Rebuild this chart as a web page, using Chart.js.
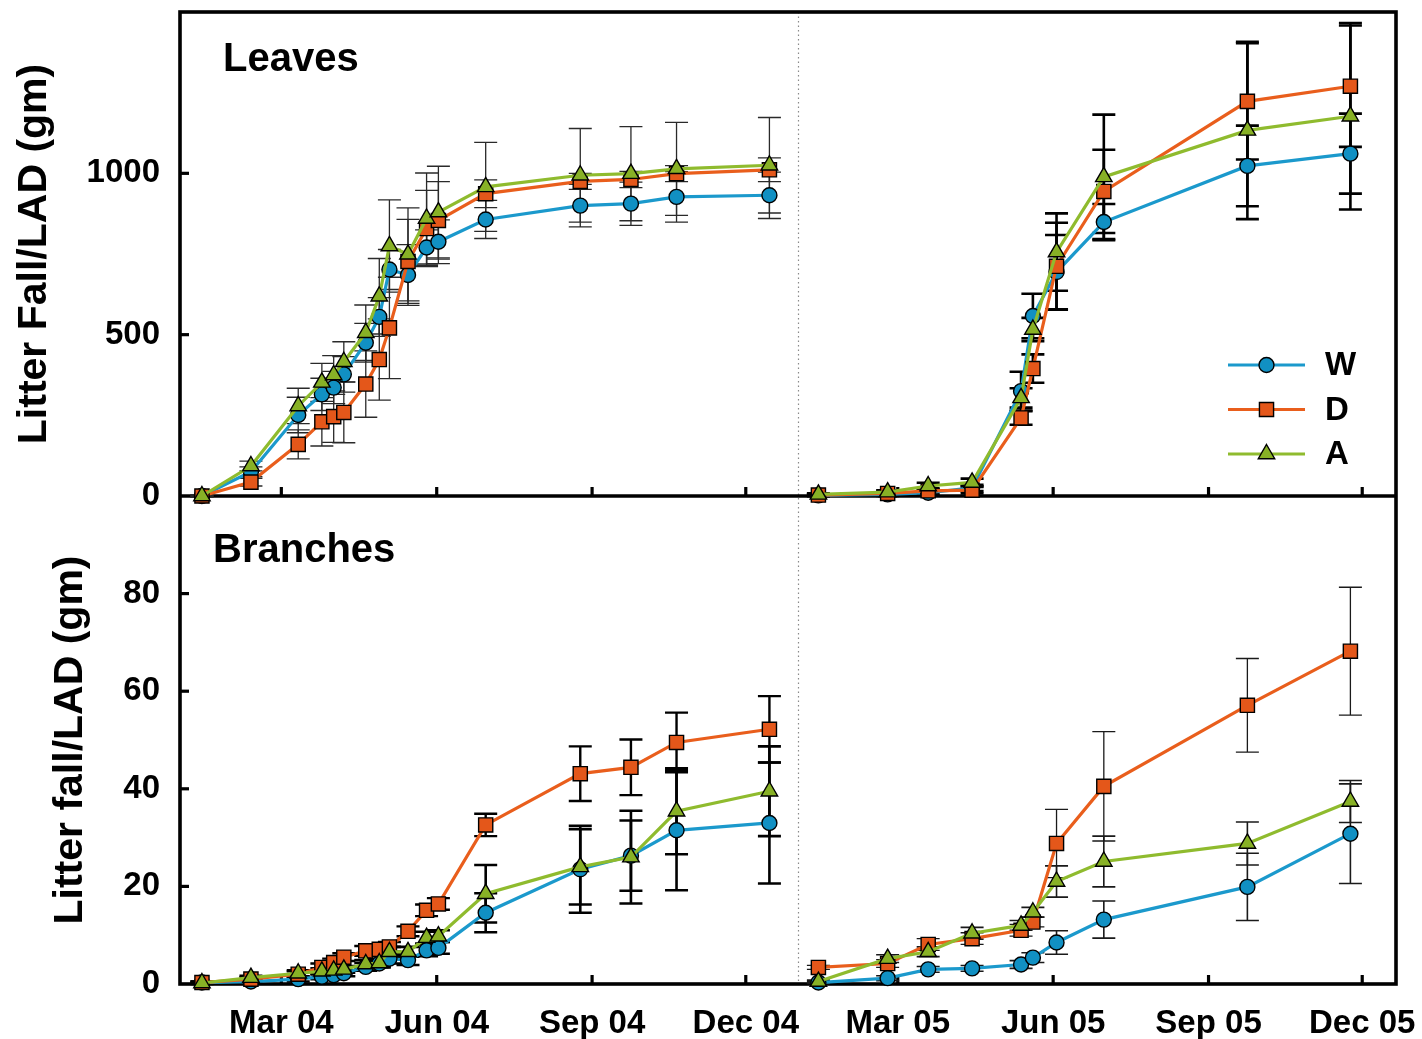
<!DOCTYPE html>
<html><head><meta charset="utf-8">
<script src="https://cdn.jsdelivr.net/npm/chart.js@4.4.0/dist/chart.umd.min.js"></script>
<style>html,body{margin:0;padding:0;background:#fff;}#wrap{width:1422px;height:1039px;position:relative;}</style>
</head><body><div id="wrap"><canvas id="c" width="1422" height="1039"></canvas></div>
<script>
// ---- data ----
const seriesNames = ['W', 'D', 'A'];
const dates04 = ['2004-01-14','2004-02-12','2004-03-11','2004-03-25','2004-04-01','2004-04-07','2004-04-20','2004-04-28','2004-05-04','2004-05-15','2004-05-26','2004-06-02','2004-06-30','2004-08-25','2004-09-24','2004-10-21','2004-12-15'];
const dates05 = ['2005-01-13','2005-02-23','2005-03-19','2005-04-14','2005-05-13','2005-05-20','2005-06-03','2005-07-01','2005-09-24','2005-11-24'];
const tickDates = ['2004-03-01','2004-06-01','2004-09-01','2004-12-01','2005-03-01','2005-06-01','2005-09-01','2005-12-01'];
const tickLabels = ['Mar 04','Jun 04','Sep 04','Dec 04','Mar 05','Jun 05','Sep 05','Dec 05'];
const yearBreak = '2005-01-01';
const axisStart = '2004-01-01';
const axisEnd = '2005-12-21';

const leavesW04 = [0, 75, 251, 315, 336, 377, 475, 555, 702, 685, 770, 788, 857, 900, 906, 927, 932];
const leavesD04 = [0, 43, 160, 230, 246, 259, 347, 423, 521, 727, 829, 854, 937, 975, 981, 999, 1011];
const leavesA04 = [0, 93, 279, 352, 375, 416, 506, 619, 775, 749, 860, 880, 958, 994, 999, 1014, 1025];
const leavesW04Err = [3, 15, 55, 50, 50, 55, 60, 60, 62, 94, 55, 68, 59, 66, 67, 78, 72];
const leavesD04Err = [3, 12, 45, 75, 80, 94, 103, 126, 157, 130, 118, 120, 43, 25, 25, 25, 37];
const leavesA04Err = [3, 15, 55, 59, 60, 62, 86, 117, 143, 144, 141, 142, 138, 145, 146, 144, 148];

const leavesW05 = [2, 5, 10, 25, 325, 558, 694, 849, 1023, 1061];
const leavesD05 = [3, 8, 16, 18, 242, 395, 712, 944, 1223, 1270];
const leavesA05 = [5, 12, 31, 42, 304, 516, 756, 989, 1133, 1177];
const leavesW05Err = [3, 5, 8, 10, 60, 69, 115, 56, 125, 124];
const leavesD05Err = [3, 5, 8, 10, 21, 44, 135, 129, 180, 188];
const leavesA05Err = [3, 6, 10, 12, 30, 36, 120, 193, 275, 289];

const branchW04 = [0.3, 0.5, 1.0, 1.5, 1.8, 2.2, 3.5, 4.2, 5.2, 4.9, 6.9, 7.4, 14.6, 23.5, 26.3, 31.5, 33.0];
const branchD04 = [0.3, 1.0, 2.0, 3.4, 4.4, 5.5, 6.8, 7.1, 7.6, 10.8, 15.1, 16.4, 32.6, 43.1, 44.4, 49.5, 52.2];
const branchA04 = [0.2, 1.3, 2.2, 2.6, 2.8, 3.0, 4.1, 4.3, 6.6, 6.6, 9.5, 9.8, 18.5, 24.0, 26.0, 35.4, 39.5];
const branchW04Err = [0.2, 0.3, 0.5, 0.5, 0.6, 0.6, 0.8, 0.8, 1.0, 1.0, 1.2, 1.2, 4.0, 8.9, 7.2, 12.3, 12.4];
const branchD04Err = [0.2, 0.4, 0.6, 0.8, 0.8, 0.8, 1.0, 1.0, 1.0, 1.0, 1.2, 1.2, 2.3, 5.6, 5.7, 6.1, 6.8];
const branchA04Err = [0.2, 0.4, 0.6, 0.6, 0.6, 0.7, 0.8, 0.8, 1.0, 1.0, 1.2, 1.2, 5.9, 7.7, 9.5, 8.8, 9.2];

const branchW05 = [0.3, 1.2, 3.0, 3.2, 4.0, 5.4, 8.5, 13.2, 19.9, 30.8];
const branchD05 = [3.4, 4.2, 8.1, 9.3, 11.0, 12.7, 28.8, 40.5, 57.1, 68.2];
const branchA05 = [0.5, 5.2, 6.6, 10.4, 12.0, 14.7, 21.0, 25.1, 28.8, 37.4];
const branchW05Err = [0.2, 0.5, 0.6, 0.6, 0.8, 1.0, 2.4, 3.8, 6.9, 10.2];
const branchD05Err = [0.4, 0.8, 1.2, 1.2, 1.2, 1.0, 7.0, 11.2, 9.6, 13.1];
const branchA05Err = [0.3, 0.8, 1.0, 1.2, 1.0, 1.0, 3.2, 5.2, 4.4, 4.3];

const yTopTicks = [0, 500, 1000];
const yBotTicks = [0, 20, 40, 60, 80];

// ---- styles ----
const FONT = '"Liberation Sans", Arial, Helvetica, sans-serif';
const lineColors = ['#1b99cc', '#e95e1c', '#8fbb2e'];
const markerColors = ['#1190c3', '#e4571a', '#88b126'];
const markerStyles = ['circle', 'rect', 'triangle'];
const markerRadius = [7.5, 10, 9.5];
const drawOrder = [3, 2, 1];

const dayNum = d => (Date.parse(d) - Date.parse(axisStart)) / 864e5;

const groups = [
  {axis: 'yTop', dates: dates04, vals: [leavesW04, leavesD04, leavesA04], errs: [leavesW04Err, leavesD04Err, leavesA04Err], errW: [1.3, 1.3, 1.3], errC: '#2a2a2a'},
  {axis: 'yTop', dates: dates05, vals: [leavesW05, leavesD05, leavesA05], errs: [leavesW05Err, leavesD05Err, leavesA05Err], errW: [2.6, 2.6, 2.6], errC: '#000'},
  {axis: 'yBot', dates: dates04, vals: [branchW04, branchD04, branchA04], errs: [branchW04Err, branchD04Err, branchA04Err], errW: [2.6, 2.4, 2.6], errC: '#000'},
  {axis: 'yBot', dates: dates05, vals: [branchW05, branchD05, branchA05], errs: [branchW05Err, branchD05Err, branchA05Err], errW: [1.6, 1.3, 1.6], errC: '#1a1a1a'}
];

const datasets = [];
groups.forEach(g => {
  for (let s = 0; s < 3; s++) {
    datasets.push({
      label: seriesNames[s],
      yAxisID: g.axis,
      data: g.dates.map((d, i) => ({x: dayNum(d), y: g.vals[s][i]})),
      errors: g.errs[s],
      errWidth: g.errW[s],
      errColor: g.errC,
      borderColor: lineColors[s],
      borderWidth: 3.2,
      backgroundColor: markerColors[s],
      pointBackgroundColor: markerColors[s],
      pointBorderColor: '#000',
      pointBorderWidth: 1.4,
      pointStyle: markerStyles[s],
      pointRadius: markerRadius[s],
      pointHoverRadius: markerRadius[s],
      tension: 0,
      clip: false,
      order: drawOrder[s]
    });
  }
});

const decor = {
  id: 'decor',
  beforeDatasetsDraw(chart) {
    const ctx = chart.ctx, a = chart.chartArea, x = chart.scales.x;
    const yT = chart.scales.yTop, yB = chart.scales.yBot;
    ctx.save();
    const xb = Math.round(x.getPixelForValue(dayNum(yearBreak))) + 0.5;
    ctx.strokeStyle = '#8a8a8a'; ctx.lineWidth = 1.2; ctx.setLineDash([1.5, 3]);
    ctx.beginPath(); ctx.moveTo(xb, a.top); ctx.lineTo(xb, a.bottom); ctx.stroke();
    ctx.setLineDash([]);
    ctx.strokeStyle = '#000'; ctx.lineWidth = 3.6;
    ctx.strokeRect(a.left, a.top, a.right - a.left, a.bottom - a.top);
    const ymid = yT.getPixelForValue(0);
    ctx.beginPath(); ctx.moveTo(a.left, ymid); ctx.lineTo(a.right, ymid); ctx.stroke();
    ctx.lineWidth = 3.2;
    const tl = 9;
    [yT, yB].forEach(ys => {
      const base = ys.getPixelForValue(0);
      x.ticks.forEach(t => {
        const px = x.getPixelForValue(t.value);
        ctx.beginPath(); ctx.moveTo(px, base); ctx.lineTo(px, base - tl); ctx.stroke();
      });
      ys.ticks.forEach(t => {
        if (t.value === 0) return;
        const py = ys.getPixelForValue(t.value);
        ctx.beginPath(); ctx.moveTo(a.left, py); ctx.lineTo(a.left + tl, py); ctx.stroke();
      });
    });
    chart.data.datasets.forEach((ds, di) => {
      const meta = chart.getDatasetMeta(di);
      const ys = chart.scales[ds.yAxisID];
      ctx.strokeStyle = ds.errColor; ctx.lineWidth = ds.errWidth;
      meta.data.forEach((pt, i) => {
        const e = ds.errors[i]; const v = ds.data[i].y;
        if (!e) return;
        const y1 = ys.getPixelForValue(v + e), y2 = ys.getPixelForValue(v - e);
        const px = pt.x, cw = 11.5;
        ctx.beginPath();
        ctx.moveTo(px, y1); ctx.lineTo(px, y2);
        ctx.moveTo(px - cw, y1); ctx.lineTo(px + cw, y1);
        ctx.moveTo(px - cw, y2); ctx.lineTo(px + cw, y2);
        ctx.stroke();
      });
    });
    ctx.restore();
  },
  afterDatasetsDraw(chart) {
    const ctx = chart.ctx, a = chart.chartArea;
    const yT = chart.scales.yTop;
    const ymid = yT.getPixelForValue(0);
    ctx.save();
    ctx.fillStyle = '#000';
    ctx.textBaseline = 'alphabetic';
    ctx.textAlign = 'left';
    ctx.font = 'bold 40px ' + FONT;
    ctx.fillText('Leaves', a.left + 43, a.top + 59);
    ctx.fillText('Branches', a.left + 33, ymid + 66);
    const ys0 = a.top + 353, gap = 44.5;
    const lx1 = a.right - 168, lx2 = a.right - 91, mx = (lx1 + lx2) / 2;
    seriesNames.forEach((n, s) => {
      const y = ys0 + s * gap;
      ctx.strokeStyle = lineColors[s]; ctx.lineWidth = 3;
      ctx.beginPath(); ctx.moveTo(lx1, y); ctx.lineTo(lx2, y); ctx.stroke();
      ctx.fillStyle = markerColors[s]; ctx.strokeStyle = '#000'; ctx.lineWidth = 1.4;
      Chart.helpers.drawPoint(ctx, {pointStyle: markerStyles[s], radius: markerRadius[s], borderWidth: 1.4, rotation: 0}, mx, y);
      ctx.fillStyle = '#000';
      ctx.font = 'bold 33px ' + FONT;
      ctx.textBaseline = 'middle';
      ctx.fillText(n, a.right - 71, y + 1);
    });
    ctx.restore();
  }
};

const tickFont = {family: FONT, size: 33, weight: 'bold'};
const titleFont = {family: FONT, size: 41, weight: 'bold'};

new Chart(document.getElementById('c'), {
  type: 'line',
  data: {datasets},
  options: {
    responsive: false,
    animation: false,
    devicePixelRatio: 1,
    layout: {padding: {top: 12, right: 26, left: 0, bottom: 0}},
    plugins: {legend: {display: false}, tooltip: {enabled: false}},
    scales: {
      x: {
        type: 'linear',
        min: dayNum(axisStart),
        max: dayNum(axisEnd),
        afterBuildTicks: s => { s.ticks = tickDates.map(d => ({value: dayNum(d)})); },
        ticks: {callback: (v, i) => tickLabels[i], font: tickFont, color: '#000', padding: 12, maxRotation: 0, autoSkip: false},
        grid: {display: false},
        border: {display: false},
        afterFit: s => { s.height = 55; s.paddingLeft = 0; s.paddingRight = 0; }
      },
      yBot: {
        type: 'linear', position: 'left', stack: 'panels', stackWeight: 488,
        min: 0, max: 100,
        afterBuildTicks: s => { s.ticks = yBotTicks.map(v => ({value: v})); },
        ticks: {callback: v => String(v), font: tickFont, color: '#000', padding: 12},
        grid: {display: false},
        border: {display: false},
        title: {display: true, text: 'Litter fall/LAD (gm)', font: titleFont, color: '#000', padding: {top: 46, bottom: 0}},
        afterFit: s => { s.width = 180; s.paddingTop = 0; s.paddingBottom = 0; }
      },
      yTop: {
        type: 'linear', position: 'left', stack: 'panels', stackWeight: 484,
        min: 0, max: 1500,
        afterBuildTicks: s => { s.ticks = yTopTicks.map(v => ({value: v})); },
        ticks: {callback: v => String(v), font: tickFont, color: '#000', padding: 12},
        grid: {display: false},
        border: {display: false},
        title: {display: true, text: 'Litter Fall/LAD (gm)', font: titleFont, color: '#000', padding: {top: 10, bottom: 0}},
        afterFit: s => { s.width = 180; s.paddingTop = 0; s.paddingBottom = 0; }
      }
    }
  },
  plugins: [decor]
});
</script>
</body></html>
